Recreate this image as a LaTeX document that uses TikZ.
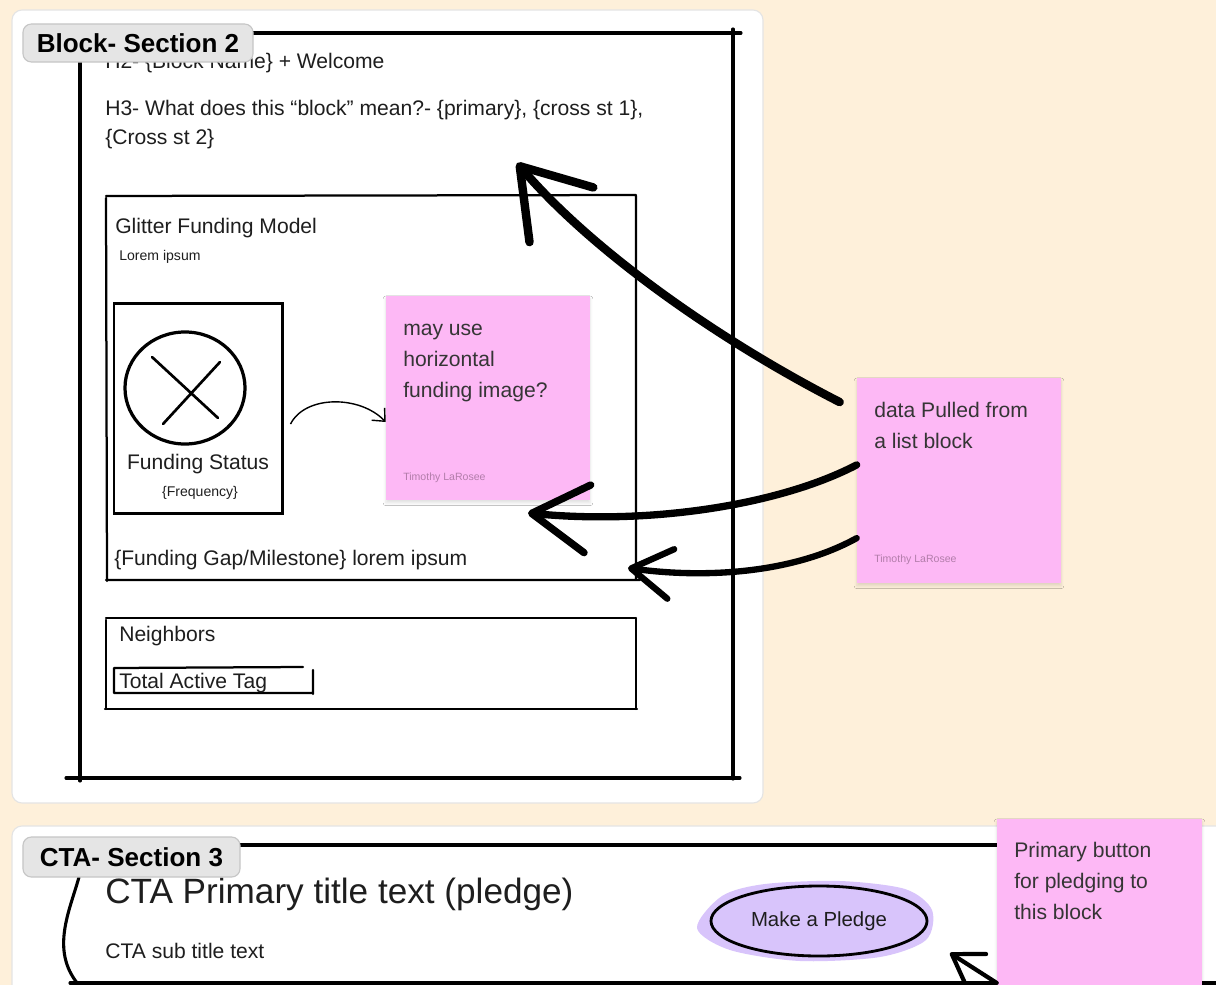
\documentclass[tikz,border=0pt]{standalone}
\usepackage{fontspec}
\setmainfont{Liberation Sans}
\usetikzlibrary{calc,positioning,shadows.blur,arrows.meta,shapes.geometric}

\definecolor{paper}{HTML}{FEF0DA}
\definecolor{notepink}{HTML}{FDB8F5}
\definecolor{authorpink}{HTML}{B27DAA}
\definecolor{tabgray}{HTML}{E5E5E5}
\definecolor{tabedge}{HTML}{C6C6C6}
\definecolor{paneledge}{HTML}{E4E4E4}
\definecolor{btnpurple}{HTML}{D8C4FB}
\definecolor{ink}{HTML}{1E1E1E}

\tikzset{
  txt/.style={anchor=base west, inner sep=0pt, text=ink, font=\fontsize{15}{21.3}\selectfont},
  smalltxt/.style={txt, font=\fontsize{10}{12}\selectfont},
  notetxt/.style={txt, align=left, text=ink!90, font=\fontsize{15}{22}\selectfont},
  author/.style={txt, text=authorpink, font=\fontsize{7.5}{9}\selectfont},
  sticky/.style={fill=notepink, minimum width=5.1cm, minimum height=5.1cm, inner sep=0pt,
    blur shadow={shadow xshift=0pt, shadow yshift=-2pt, shadow blur radius=2pt, shadow opacity=12}},
  tab/.style={fill=tabgray, draw=tabedge, line width=0.8pt, rounded corners=6pt, inner sep=0pt,
    font=\bfseries\fontsize{18.5}{20}\selectfont, text=black},
  sketch/.style={line width=2.2pt, line cap=round},
  thinsketch/.style={line width=1.6pt, line cap=round},
}

\begin{document}
\begin{tikzpicture}[x=0.025cm, y=-0.025cm]
  \useasboundingbox (0,0) rectangle (1216,985);
  \clip (0,0) rectangle (1216,985);
  \fill[paper] (0,0) rectangle (1216,985);

  % The two panels
  \draw[fill=white, draw=paneledge, line width=0.8pt, rounded corners=0.25cm] (12,10) rectangle (763,803);
  \draw[fill=white, draw=paneledge, line width=0.8pt, rounded corners=0.25cm] (12,826) rectangle (1240,1010);

  % Block section texts (base of a multi-line node is its last line)
  \node[txt] (h2) at (105,69) {H2- \{Block Name\} + Welcome};
  \node[txt, align=left] (h3) at (105,145) {H3- What does this “block” mean?- \{primary\}, \{cross st 1\},\\\{Cross st 2\}};

  % Block section frame
  \draw[sketch] (76,33) -- (741,33);
  \draw[sketch] (733,29) -- (733,779);
  \draw[sketch] (80,40) -- (80,781);
  \draw[sketch] (66,778) -- (740,778);

  % Glitter funding model
  \draw[thinsketch] (106,196) -- (636,195) (106,198) -- (107,581) (636,196) -- (636,580) (106,580) -- (640,580);
  \node[txt] (glitter) at (115,233) {Glitter Funding Model};
  \node[smalltxt] (lorem) at (119,260) {Lorem ipsum};
  \node[draw, line width=2.1pt, minimum width=4.2cm, minimum height=5.225cm] (fstatus) at (198,408.5) {};
  \node[draw, ellipse, line width=2.3pt, minimum width=3cm, minimum height=2.8cm, inner sep=0pt] (fcircle) at (185,388) {};
  \draw[line width=1.9pt, line cap=round] (152,357) -- (218,418) (220,362) -- (163,424);
  \node[txt, anchor=base] (fstatustxt) at (198,469) {Funding Status};
  \node[smalltxt, anchor=base] (freq) at (200,496) {\{Frequency\}};
  \node[txt] (gap) at (114,565) {\{Funding Gap/Milestone\} lorem ipsum};

  % Neighbors
  \draw[thinsketch] (106,618) -- (636,618) (106,620) -- (106,709) (636,618) -- (636,709) (105,709) -- (637,709);
  \node[txt] (neigh) at (119,641) {Neighbors};
  \draw[thinsketch] (114,668) -- (303,667) (114,668) -- (114,693) (114,693) -- (313,693) (313,670) -- (313,694);
  \node[txt] (tag) at (119,688) {Total Active Tag};

  % Tab labels
  \node[tab, minimum width=5.75cm, minimum height=0.95cm] (tabblock) at (138,43) {Block- Section 2};

  % CTA section
  \node[txt, font=\fontsize{25}{30}\selectfont] (ctatitle) at (105,903) {CTA Primary title text (pledge)};
  \node[txt] (ctasub) at (105,958) {CTA sub title text};
  \draw[sketch] (240,845) -- (1000,845);
  \draw[sketch] (70,983) -- (1216,983);
  \draw[sketch] (79,877) .. controls (70,910) and (50,950) .. (78,984);
  \node[tab, minimum width=5.425cm, minimum height=1cm] (tabcta) at (131.5,857) {CTA- Section 3};

  % Pledge button
  \fill[btnpurple] plot[smooth cycle] coordinates {(697,928) (722,896) (765,884) (840,881) (905,889) (932,910) (926,940) (880,957) (800,961) (730,950)};
  \node[draw, ellipse, line width=2pt, fill=btnpurple, minimum width=5.4cm, minimum height=1.75cm, inner sep=0pt,
    font=\fontsize{14.5}{16}\selectfont, text=ink] (pledge) at (819,921) {Make a Pledge};

  % Sticky notes
  \node[sticky] (note1) at (488,398) {};
  \node[notetxt] (note1txt) at (403,397) {may use\\horizontal\\funding image?};
  \node[author] (note1by) at (403,480) {Timothy LaRosee};

  \node[sticky, minimum height=5.125cm] (note2) at (959,480.5) {};
  \node[notetxt] (note2txt) at (874,448) {data Pulled from\\a list block};
  \node[author] (note2by) at (874,562) {Timothy LaRosee};

  \node[sticky, minimum width=5.125cm, minimum height=4.775cm] (note3) at (1099.5,914.5) {};
  \node[notetxt] (note3txt) at (1014,919) {Primary button\\for pledging to\\this block};

  % Arrows
  \coordinate (h3tip) at (517,163);
  \coordinate (note1tip) at (528,513);
  \coordinate (gaptip) at (628,568);
  \coordinate (pledgetip) at (950,953);
  \draw[line width=1pt, -{Straight Barb[length=0.25cm, width=0.45cm]}]
    ([xshift=0.175cm, yshift=-0.39cm]fstatus.east) .. controls (305,395) and (360,395) .. ([yshift=-0.6cm]note1.west);
  \draw[line width=6pt, line cap=round, -{Straight Barb[length=1.6cm, width=2.1cm, round]}]
    ([shift={(-0.425cm,1.96cm)}]note2.west) .. controls (724,343) and (595,254) .. (h3tip);
  \draw[line width=5.2pt, line cap=round, -{Straight Barb[length=1.4cm, width=1.7cm, round]}]
    ([yshift=0.39cm]note2.west) .. controls (780,505) and (650,525) .. (note1tip);
  \draw[line width=4.5pt, line cap=round, -{Straight Barb[length=1cm, width=1.25cm, round]}]
    ([yshift=-1.44cm]note2.west) .. controls (790,575) and (700,578) .. (gaptip);
  \draw[line width=3pt, line cap=round, -{Straight Barb[length=0.72cm, width=0.93cm, round]}]
    ([yshift=-1.71cm]note3.west) -- (pledgetip);
\end{tikzpicture}
\end{document}
